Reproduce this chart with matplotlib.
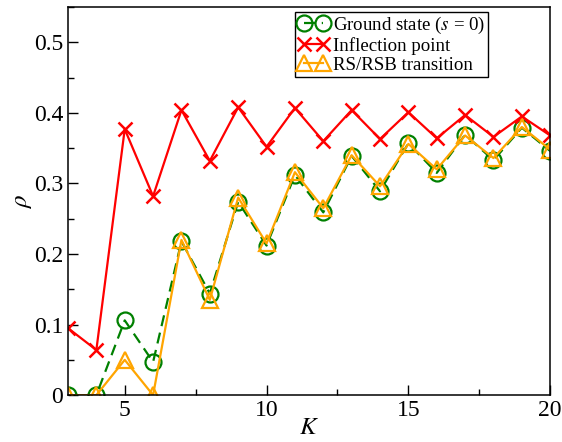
import matplotlib
matplotlib.use("Agg")
from matplotlib import pyplot as plt
from matplotlib.ticker import MultipleLocator

plt.rcParams["font.family"] = ["Liberation Serif", "DejaVu Serif"]
plt.rcParams["mathtext.fontset"] = "stix"

# K values and the three curves
K = [3, 4, 5, 6, 7, 8, 9, 10, 11, 12, 13, 14, 15, 16, 17, 18, 19, 20]
ground = [0.0, 0.0, 0.106, 0.047, 0.218, 0.144, 0.274, 0.212, 0.312, 0.259,
          0.339, 0.289, 0.357, 0.315, 0.369, 0.333, 0.379, 0.346]
inflection = [0.095, 0.064, 0.377, 0.282, 0.404, 0.332, 0.408, 0.352, 0.407, 0.360,
              0.404, 0.363, 0.401, 0.364, 0.397, 0.366, 0.395, 0.368]
transition = [0.0, 0.0, 0.050, 0.0, 0.220, 0.135, 0.280, 0.215, 0.316, 0.265,
              0.340, 0.296, 0.356, 0.320, 0.368, 0.336, 0.380, 0.348]

yticks = [0, 0.1, 0.2, 0.3, 0.4, 0.5]
yticklabels = ["0", "0.1", "0.2", "0.3", "0.4", "0.5"]

fig = plt.figure(figsize=(5.62, 4.42), dpi=100)
ax = fig.add_axes([0.121, 0.106, 0.858, 0.878])

ax.plot(K, ground, color="#008000", ls=(0, (5, 3)), lw=1.6, marker="o", ms=11.5,
        mfc="none", mew=1.6, label="Ground state ($s$ = 0)")
ax.plot(K, inflection, color="#ff0000", lw=1.6, marker="x", ms=10, mew=1.8,
        label="Inflection point")
ax.plot(K, transition, color="#ffa500", lw=1.6, marker="^", ms=12, mfc="none",
        mew=1.6, label="RS/RSB transition")

ax.set_xlim(3, 20)
ax.set_ylim(0, 0.55)
ax.xaxis.set_major_locator(MultipleLocator(5))
ax.xaxis.set_minor_locator(MultipleLocator(2.5))
ax.set_yticks(yticks)
ax.set_yticklabels(yticklabels)
ax.yaxis.set_minor_locator(MultipleLocator(0.05))
ax.tick_params(which="both", direction="in", top=False, right=False, labelsize=17, width=1)
ax.tick_params(which="major", length=7)
ax.tick_params(which="minor", length=4)
for s in ax.spines.values():
    s.set_linewidth(1.1)

ax.set_xlabel("$K$", fontsize=18, labelpad=-3)
ax.set_ylabel(r"$\rho$", fontsize=18, labelpad=0)

leg = ax.legend(loc="upper right", bbox_to_anchor=(0.871, 0.988), fontsize=13.6,
                numpoints=2, handlelength=1.6, handletextpad=0.25, borderpad=0.15,
                labelspacing=0.08, fancybox=False, framealpha=1, borderaxespad=0)
leg.get_frame().set_edgecolor("black")
leg.get_frame().set_linewidth(1)

fig.savefig("out.png", dpi=100)
